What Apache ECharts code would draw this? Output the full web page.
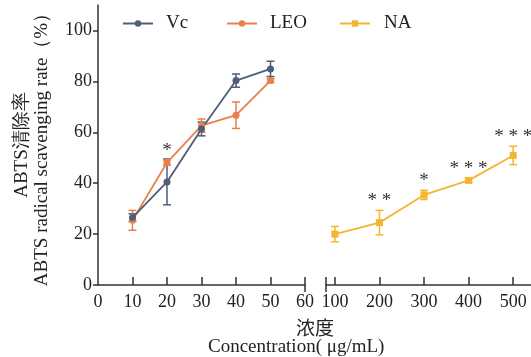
<!DOCTYPE html>
<html>
<head>
<meta charset="utf-8">
<script src="https://cdn.jsdelivr.net/npm/echarts@6/dist/echarts.min.js"></script>
<style>html,body{margin:0;padding:0;background:#fff}#c{width:531px;height:357px}</style>
</head>
<body>
<div id="c"></div>
<script>
// ---- data ----
const concLow = [10, 20, 30, 40, 50];
const vcMean = [26.5, 40.5, 61.3, 80.3, 84.9];
const vcErr = [1.5, 9.0, 2.7, 2.6, 3.0];
const leoMean = [25.4, 48.1, 62.6, 66.7, 80.3];
const leoErr = [3.9, 1.0, 2.6, 5.2, 0.8];
const concHigh = [100, 200, 300, 400, 500];
const naMean = [20.0, 24.5, 35.4, 41.1, 50.9];
const naErr = [3.0, 4.8, 1.8, 0.8, 3.6];
const leoSig = ['', '*', '', '', ''];
const naSig = ['', '* *', '*', '* * *', '* * *'];
const yTicks = [0, 20, 40, 60, 80, 100];
const xTicksLow = [10, 20, 30, 40, 50, 60];
const xTicksHigh = [100, 200, 300, 400, 500];

const C_VC = '#4f5d78', C_LEO = '#ea8048', C_NA = '#f2b630';
const FONT = "'Liberation Serif', 'DejaVu Serif', serif";
const TXT = '#222';

function pts(xs, ys) { return xs.map((x, i) => [x, ys[i]]); }
function errData(xs, m, e) { return xs.map((x, i) => [x, m[i] - e[i], m[i] + e[i]]); }
function sigData(xs, m, e, s) {
  return xs.map((x, i) => ({ value: [x, m[i] + e[i]], txt: s[i] })).filter(d => d.txt);
}
function errSeries(name, data, color, xi) {
  return {
    type: 'custom', name: name + '-err', xAxisIndex: xi, yAxisIndex: xi, silent: true, z: 3,
    data: data,
    renderItem: function (params, api) {
      const x = api.value(0);
      const lo = api.coord([x, api.value(1)]);
      const hi = api.coord([x, api.value(2)]);
      const w = 4;
      const st = { stroke: color, lineWidth: 1.5 };
      return { type: 'group', children: [
        { type: 'line', shape: { x1: lo[0], y1: lo[1], x2: hi[0], y2: hi[1] }, style: st },
        { type: 'line', shape: { x1: lo[0] - w, y1: lo[1], x2: lo[0] + w, y2: lo[1] }, style: st },
        { type: 'line', shape: { x1: hi[0] - w, y1: hi[1], x2: hi[0] + w, y2: hi[1] }, style: st }
      ]};
    }
  };
}
function sigSeries(data, xi) {
  return {
    type: 'custom', xAxisIndex: xi, yAxisIndex: xi, silent: true, z: 5,
    data: data.map(d => d.value),
    renderItem: function (params, api) {
      const p = api.coord([api.value(0), api.value(1)]);
      return { type: 'text', x: p[0], y: p[1],
        style: { text: data[params.dataIndex].txt, font: "19px 'Liberation Serif'", fill: '#333',
                 align: 'center', verticalAlign: 'bottom' } };
    }
  };
}
const axisLine = { show: true, lineStyle: { color: '#333', width: 1.5 } };
const labelStyle = { fontFamily: FONT, fontSize: 18, color: TXT };
const legendText = { fontFamily: FONT, fontSize: 19, color: TXT };

const chart = echarts.init(document.getElementById('c'));
chart.setOption({
  animation: false,
  grid: [
    { left: 98, right: 226, top: 5, bottom: 72 },
    { left: 326, right: 0, top: 5, bottom: 72 }
  ],
  xAxis: [
    { type: 'value', gridIndex: 0, position: 'bottom', min: 0, max: 60, interval: 10, axisLine: axisLine,
      axisTick: { show: true, inside: true, length: 8, customValues: xTicksLow, lineStyle: { color: '#333', width: 1.5 } },
      axisLabel: { show: true, customValues: [0].concat(xTicksLow), margin: 8, ...labelStyle },
      splitLine: { show: false } },
    { type: 'value', gridIndex: 1, position: 'bottom', min: 80, max: 540, axisLine: axisLine,
      axisTick: { show: true, inside: true, length: 8, customValues: [80].concat(xTicksHigh), lineStyle: { color: '#333', width: 1.5 } },
      axisLabel: { show: true, customValues: xTicksHigh, margin: 8, ...labelStyle },
      splitLine: { show: false } },
    { type: 'value', gridIndex: 0, position: 'bottom', min: 0, max: 60, axisLine: { show: false },
      axisTick: { show: true, inside: false, length: 7, customValues: [60], lineStyle: { color: '#333', width: 1.5 } },
      axisLabel: { show: false }, splitLine: { show: false } },
    { type: 'value', gridIndex: 1, position: 'bottom', min: 80, max: 540, axisLine: { show: false },
      axisTick: { show: true, inside: false, length: 7, customValues: [80], lineStyle: { color: '#333', width: 1.5 } },
      axisLabel: { show: false }, splitLine: { show: false } }
  ],
  yAxis: [
    { type: 'value', gridIndex: 0, min: 0, max: 110, axisLine: axisLine,
      axisTick: { show: true, inside: false, length: 5, customValues: yTicks, lineStyle: { color: '#333', width: 1.5 } },
      axisLabel: { show: true, customValues: yTicks, margin: 6, ...labelStyle },
      splitLine: { show: false },
      name: 'ABTS清除率\nABTS radical scavenging rate（%）', nameLocation: 'middle', nameGap: 46, nameRotate: 90,
      nameTextStyle: { fontFamily: FONT, fontSize: 19, color: TXT, lineHeight: 20 } },
    { type: 'value', gridIndex: 1, min: 0, max: 110, show: false, splitLine: { show: false } }
  ],
  legend: [
    { left: 117, top: 9, data: ['Vc'], itemWidth: 30, itemHeight: 8, textStyle: { ...legendText, padding: [0, 0, 0, 8] } },
    { left: 221, top: 9, data: ['LEO'], itemWidth: 30, itemHeight: 8, textStyle: { ...legendText, padding: [0, 0, 0, 8] } },
    { left: 334, top: 9, data: ['NA'], itemWidth: 30, itemHeight: 8, textStyle: { ...legendText, padding: [0, 0, 0, 9] } }
  ],
  graphic: [
    { type: 'text', left: 296, top: 318, style: { text: '浓度', font: "19px 'Noto Sans CJK SC'", fill: TXT } },
    { type: 'text', left: 208, top: 338, style: { text: 'Concentration( μg/mL)', font: "19px 'Liberation Serif'", fill: TXT } }
  ],
  series: [
    errSeries('Vc', errData(concLow, vcMean, vcErr), C_VC, 0),
    errSeries('LEO', errData(concLow, leoMean, leoErr), C_LEO, 0),
    errSeries('NA', errData(concHigh, naMean, naErr), C_NA, 1),
    { name: 'LEO', type: 'line', xAxisIndex: 0, yAxisIndex: 0, data: pts(concLow, leoMean),
      symbol: 'circle', symbolSize: 7, lineStyle: { color: C_LEO, width: 1.8 }, itemStyle: { color: C_LEO }, z: 4 },
    { name: 'Vc', type: 'line', xAxisIndex: 0, yAxisIndex: 0, data: pts(concLow, vcMean),
      symbol: 'circle', symbolSize: 7, lineStyle: { color: C_VC, width: 1.8 }, itemStyle: { color: C_VC }, z: 4 },
    { name: 'NA', type: 'line', xAxisIndex: 1, yAxisIndex: 1, data: pts(concHigh, naMean),
      symbol: 'rect', symbolSize: 7, lineStyle: { color: C_NA, width: 1.8 }, itemStyle: { color: C_NA }, z: 4 },
    sigSeries(sigData(concLow, leoMean, leoErr, leoSig), 0),
    sigSeries(sigData(concHigh, naMean, naErr, naSig), 1)
  ]
});
</script>
</body>
</html>
